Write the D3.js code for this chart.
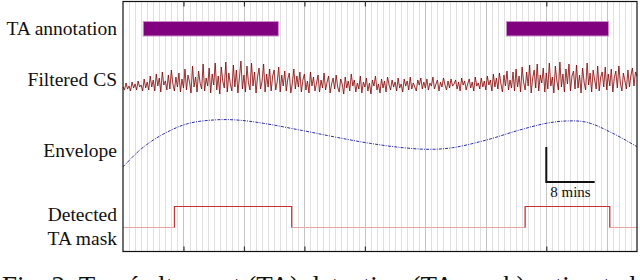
<!DOCTYPE html>
<html>
<head>
<meta charset="utf-8">
<script src="https://d3js.org/d3.v7.min.js"></script>
<style>
  html, body { margin: 0; padding: 0; background: #fff; }
  svg { display: block; }
  text { font-family: "Liberation Serif", "DejaVu Serif", serif; fill: #111; }
</style>
</head>
<body>
<div id="chart"></div>
<script>
/* Time axis, in minutes */
var totalMinutes = 85;
var tickMinutes = [10, 20, 30, 40, 70];

/* Row labels on the left */
var rowLabels = ["TA annotation", "Filtered CS", "Envelope", "Detected", "TA mask"];

/* Annotated TA periods, start and end minute */
var annotationStart = [3.35, 63.4];
var annotationEnd = [25.7, 80.3];

/* Filtered CS, one sample every 0.25 min (arbitrary units) */
var csStep = 0.25;
var csValues = [
    -3, -6, 1, -5, -2, -7, 2, -4, 0, -6, 3, -3, -1, -7, 5, -4, 2, -6, 8, -3,
    4, -7, 10, -2, 6, -8, 12, -1, 3, -6, 9, -5, 14, 0, -7, 7, -3, 11, -8, 5,
    -4, 15, -6, 9, 2, -9, 18, -3, 7, -8, 13, 1, -5, 20, -7, 6, -2, 16, -9, 10,
    -1, 21, -6, 8, -10, 17, 3, -4, 22, -8, 11, 0, -7, 19, -3, 14, -9, 6, 23, -5,
    9, -8, 18, 1, -6, 21, -2, 12, -9, 7, 16, -5, 3, 20, -8, 10, -3, 15, -7, 8,
    14, -6, 2, 17, -8, 9, -2, 13, -7, 5, 11, -9, 1, 15, -5, 8, -3, 12, -8, 4,
    10, -6, 3, -9, 12, -2, 7, -7, 1, 9, -8, 4, -4, 11, -6, 2, 8, -9, 0, 6,
    -5, 9, -3, -8, 5, 0, -10, 7, -4, 3, -7, 10, -2, 4, -8, 1, -5, 8, -9, 2,
    -3, 6, -7, 1, -10, 4, -2, 8, -6, 0, -9, 5, -4, 3, -8, 7, -1, -6, 4, -3,
    2, -7, 6, -4, 0, -8, 5, -2, 3, -6, 7, -5, 1, -3, -7, 4, -1, 6, -5, 2,
    -4, 5, -6, 1, -2, 7, -5, 0, 4, -7, 2, -3, 6, -1, -6, 3, -4, 5, -2, 0,
    4, -5, 2, -7, 6, -1, 3, -6, 0, 5, -4, 2, -7, 7, -2, 1, -5, 6, -3, 3,
    -6, 8, -1, 4, -7, 10, -3, 6, -5, 11, 0, -8, 9, -2, 13, -6, 4, -4, 12, -7,
    15, -3, 8, -8, 17, 2, -6, 12, -2, 19, -9, 6, 14, -4, 20, -7, 9, 1, 16, -8,
    11, -5, 21, -2, 7, -9, 18, 3, -6, 22, -3, 10, -8, 15, 0, 20, -7, 8, 13, -5,
    19, -4, 9, -9, 16, 2, -6, 21, -1, 11, -8, 14, 4, -5, 18, -7, 7, 12, -3, 17,
    -6, 10, -2, 15, -8, 6, 13, -4, 18, 1, -7, 11, 3, -5, 14, -3, 9, 16, -2, 12,
    8
];

/* Envelope, read at a few minutes */
var envMinutes = [0, 2.8, 6.1, 10.5, 14.9, 18.8, 23.2, 29.8, 35.3, 40.8, 46.3, 50.7, 54.5, 60.1, 65.6, 70.0, 73.3, 76.7, 81.0, 85];
var envValues = [8, 25, 39, 51, 55, 55, 51.7, 44.3, 37.7, 31.7, 27.3, 25.7, 27.3, 35, 45, 51.7, 54, 52.7, 41.7, 28.3];

/* Detected TA mask, step changes */
var maskMinutes = [0, 8.5, 27.9, 66.5, 80.5, 85];
var maskValues = [0, 1, 0, 1, 0, 0];

/* Scale bar */
var scaleBarMinutes = 8;
var scaleBarLabel = "8 mins";

var caption = "Fig. 2: Tracé alternant (TA) detection (TA mask) estimated by";

drawChart();

function drawChart() {
    var width = 640, height = 280;
    var box = { left: 123, right: 637, top: 1.5, bottom: 251.5 };

    var svg = d3.select("#chart").append("svg")
        .attr("width", width)
        .attr("height", height);

    var x = d3.scaleLinear().domain([0, totalMinutes]).range([box.left, box.right]);
    var yCs = d3.scaleLinear().domain([-20, 30]).range([104, 54]);
    var yEnv = d3.scaleLinear().domain([0, 60]).range([175, 115]);
    var yMask = d3.scaleLinear().domain([0, 1]).range([227.5, 206.5]);

    /* Minute grid */
    var gridMinutes = d3.range(1, totalMinutes);
    svg.append("g")
        .selectAll("line")
        .data(gridMinutes)
        .enter().append("line")
        .attr("x1", function(d) { return Math.round(x(d)) + 0.5; })
        .attr("x2", function(d) { return Math.round(x(d)) + 0.5; })
        .attr("y1", box.top)
        .attr("y2", box.bottom)
        .attr("stroke", function(d) { return d % 10 === 0 ? "#c4c4c4" : "#e0e0e0"; })
        .attr("stroke-width", 1);

    /* TA annotation bars */
    svg.append("g")
        .selectAll("rect")
        .data(d3.range(annotationStart.length))
        .enter().append("rect")
        .attr("x", function(i) { return x(annotationStart[i]); })
        .attr("width", function(i) { return x(annotationEnd[i]) - x(annotationStart[i]); })
        .attr("y", 21.5)
        .attr("height", 14.5)
        .attr("fill", "#800080")
        .attr("stroke", "#c890c8")
        .attr("stroke-width", 1);

    /* Filtered CS */
    var csLine = d3.line()
        .x(function(d, i) { return x(i * csStep); })
        .y(function(d) { return yCs(d); });
    svg.append("path")
        .datum(csValues)
        .attr("d", csLine)
        .attr("fill", "none")
        .attr("stroke", "#e0a0a0")
        .attr("stroke-width", 1.2)
        .attr("stroke-opacity", 0.35);
    svg.append("path")
        .datum(csValues)
        .attr("d", csLine)
        .attr("fill", "none")
        .attr("stroke", "#800000")
        .attr("stroke-width", 0.75);

    /* Envelope */
    var envLine = d3.line()
        .curve(d3.curveCatmullRom)
        .x(function(d, i) { return x(envMinutes[i]); })
        .y(function(d) { return yEnv(d); });
    svg.append("path")
        .datum(envValues)
        .attr("d", envLine)
        .attr("fill", "none")
        .attr("stroke", "#2a2aa8")
        .attr("stroke-width", 1)
        .attr("stroke-dasharray", "3,1.2,1,1.2");

    /* Detected TA mask: low level pale, high level red */
    var maskLine = d3.line()
        .curve(d3.curveStepAfter)
        .x(function(d, i) { return x(maskMinutes[i]); })
        .y(function(d) { return yMask(d); });
    svg.append("path")
        .datum(maskValues)
        .attr("d", maskLine)
        .attr("fill", "none")
        .attr("stroke", "#eba3a3")
        .attr("stroke-width", 1);
    var highParts = [];
    for (var i = 0; i < maskValues.length - 1; i++) {
        if (maskValues[i] === 1) highParts.push([maskMinutes[i], maskMinutes[i + 1]]);
    }
    svg.append("g")
        .selectAll("path")
        .data(highParts)
        .enter().append("path")
        .attr("d", function(d) {
            return "M" + x(d[0]) + "," + yMask(0) + "V" + yMask(1) + "H" + x(d[1]) + "V" + yMask(0);
        })
        .attr("fill", "none")
        .attr("stroke", "#c83030")
        .attr("stroke-width", 1.1);

    /* Frame and ticks */
    svg.append("rect")
        .attr("x", box.left)
        .attr("y", box.top)
        .attr("width", box.right - box.left)
        .attr("height", box.bottom - box.top)
        .attr("fill", "none")
        .attr("stroke", "#111")
        .attr("stroke-width", 1.2);

    var topAxis = d3.axisTop(x).tickValues(tickMinutes).tickSize(-5).tickFormat("");
    var bottomAxis = d3.axisBottom(x).tickValues(tickMinutes).tickSize(-5).tickFormat("");
    var gTop = svg.append("g").attr("transform", "translate(0," + box.top + ")").call(topAxis);
    var gBottom = svg.append("g").attr("transform", "translate(0," + box.bottom + ")").call(bottomAxis);
    [gTop, gBottom].forEach(function(g) {
        g.select(".domain").remove();
        g.selectAll(".tick line").attr("stroke", "#333").attr("stroke-width", 1.2);
    });

    /* Scale bar */
    var barX = x(70), barY = 182;
    svg.append("path")
        .attr("d", "M" + barX + ",147V" + barY + "H" + (barX + x(scaleBarMinutes) - x(0)))
        .attr("fill", "none")
        .attr("stroke", "#111")
        .attr("stroke-width", 2);
    svg.append("text")
        .attr("x", barX + (x(scaleBarMinutes) - x(0)) / 2)
        .attr("y", 197)
        .attr("text-anchor", "middle")
        .style("font-size", "15px")
        .text(scaleBarLabel);

    /* Row labels */
    var labelBaselines = [35, 86, 157, 221, 244.5];
    svg.append("g")
        .selectAll("text")
        .data(rowLabels)
        .enter().append("text")
        .attr("x", 117)
        .attr("y", function(d, i) { return labelBaselines[i]; })
        .attr("text-anchor", "end")
        .style("font-size", "19.5px")
        .text(function(d) { return d; });

    /* Caption, cut off by the bottom edge as in the figure */
    svg.append("text")
        .attr("x", 2)
        .attr("y", 295)
        .style("font-size", "27px")
        .text(caption);
}
</script>
</body>
</html>
